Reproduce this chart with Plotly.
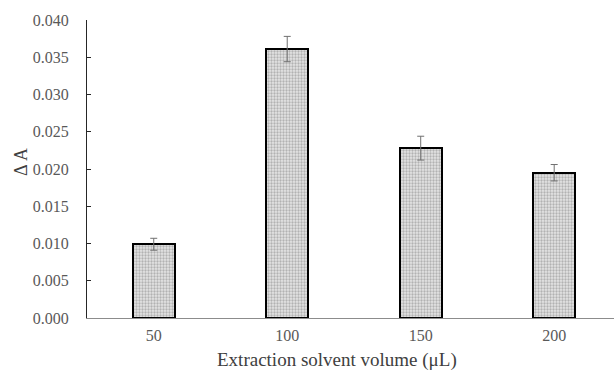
import plotly.graph_objects as go

categories = ["50", "100", "150", "200"]
values = [0.0099, 0.0361, 0.0228, 0.0195]
errors = [0.0008, 0.0017, 0.0016, 0.0011]
y_ticks = [0.000, 0.005, 0.010, 0.015, 0.020, 0.025, 0.030, 0.035, 0.040]

xpos = list(range(len(categories)))

fig = go.Figure()
fig.add_trace(go.Bar(
    x=xpos, y=values, width=0.315,
    marker=dict(
        color="#d0d0d0",
        line=dict(color="#000000", width=2),
        pattern=dict(shape=".", size=3, solidity=0.45, fgcolor="#808080", bgcolor="#e4e4e4"),
    ),
    error_y=dict(type="data", array=errors, visible=True, color="#707070", thickness=1, width=3.5),
    showlegend=False,
))

font_family = "Liberation Serif, Times New Roman, serif"
fig.update_layout(
    width=614, height=372,
    margin=dict(l=87, r=0, t=20, b=54),
    plot_bgcolor="white", paper_bgcolor="white",
    font=dict(family=font_family, size=16, color="#595959"),
    bargap=0,
    xaxis=dict(
        range=[-0.5, 3.448],
        tickvals=xpos, ticktext=categories,
        showline=True, linecolor="#8c8c8c", linewidth=1,
        ticks="", showgrid=False, zeroline=False,
        ticklabelstandoff=3,
        tickfont=dict(size=16, color="#595959"),
    ),
    yaxis=dict(
        range=[0, 0.04],
        tickvals=y_ticks, ticktext=[f"{v:.3f}" for v in y_ticks],
        showline=True, linecolor="#262626", linewidth=1,
        ticks="inside", ticklen=4, tickcolor="#262626",
        ticklabelstandoff=14,
        showgrid=False, zeroline=False,
        tickfont=dict(size=16, color="#595959"),
    ),
    annotations=[
        dict(text="Extraction solvent volume (μL)", xref="paper", yref="paper",
             x=(337 - 87) / 527, y=-42 / 298, xanchor="center", yanchor="middle",
             showarrow=False, font=dict(size=19, color="#404040")),
        dict(text="Δ A", xref="paper", yref="paper", textangle=-90,
             x=-66 / 527, y=(318 - 162) / 298, xanchor="center", yanchor="middle",
             showarrow=False, font=dict(size=18, color="#404040")),
    ],
)

fig.write_html("out.html")
